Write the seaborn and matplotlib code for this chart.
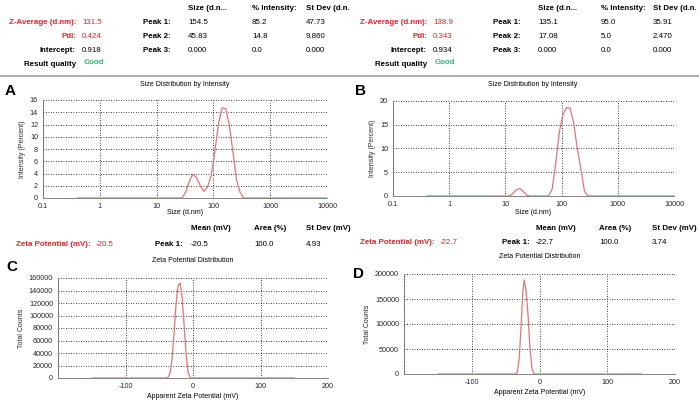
import numpy as np
import pandas as pd
import matplotlib
matplotlib.use("Agg")
import matplotlib.pyplot as plt
import matplotlib.ticker as mticker
import seaborn as sns

sns.set_style("white")
plt.rcParams['font.family'] = ['Liberation Sans', 'DejaVu Sans']

# size distribution A (d.nm vs intensity %)
size_a = [0.4, 28.21, 32.67, 37.84, 43.82, 50.75, 58.77, 68.06, 78.82, 91.28,
          105.7, 122.4, 141.8, 164.2, 190.1, 220.2, 255.0, 295.3, 342.0, 10000]
int_a = [0, 0, 1.0, 2.8, 3.9, 3.3, 2.0, 1.1, 1.8, 3.6,
         7.5, 12.0, 14.7, 14.6, 12.0, 7.6, 3.0, 0.9, 0, 0]

# size distribution B
size_b = [0.4, 11.7, 13.54, 15.69, 18.17, 21.04, 24.36, 28.21, 58.77, 68.06,
          78.82, 91.28, 105.7, 122.4, 141.8, 164.2, 190.1, 220.2, 255.0, 295.3, 10000]
int_b = [0, 0, 0.5, 1.3, 1.6, 0.9, 0.1, 0, 0, 1.5,
         7.0, 13.5, 17.2, 18.6, 18.5, 15.3, 10.0, 5.8, 1.0, 0, 0]

# zeta potential distributions C and D
zeta_c = [-150, -40, -37, -34, -31, -28, -25, -22, -19, -16, -13, -10, -7, -4, 150]
counts_c = [0, 0, 1000, 8000, 30000, 72000, 120000, 148000, 152000, 128000,
            82000, 35000, 8000, 0, 0]
zeta_d = [-150, -36, -33, -30, -27, -24.5, -22.5, -20, -17, -14, -11, -8, 150]
counts_d = [0, 0, 3000, 30000, 100000, 165000, 188000, 168000, 120000, 50000,
            10000, 0, 0]

W, H = 699, 403
RED = '#e8202a'
LINE = '#e57373'
FS = 5.7

fig = plt.figure(figsize=(W / 100, H / 100), dpi=100)


def txt(x, y, s, ha='left', color='black', bold=False, size=FS):
    fig.text(x / W, 1 - y / H, s, ha=ha, va='center', color=color,
             fontsize=size, fontweight='bold' if bold else 'normal')


def add_ax(left, right, top, bottom):
    return fig.add_axes([left / W, 1 - bottom / H, (right - left) / W, (bottom - top) / H])


def style(ax):
    for s in ['top', 'right']:
        ax.spines[s].set_visible(False)
    for s in ['left', 'bottom']:
        ax.spines[s].set_color('#707070')
        ax.spines[s].set_linewidth(0.6)
    ax.grid(True, which='major', color='black', linestyle=(0, (1, 2)), linewidth=0.6)
    ax.tick_params(which='major', direction='out', length=2, width=0.5,
                   color='#707070', labelsize=5.2, pad=1.5)
    ax.tick_params(which='minor', direction='out', length=1.3, width=0.4, color='#707070')
    ax.set_axisbelow(True)


# ---- header tables ----
for ox, vals in [(0, ('131.5', '0.424', '0.918', [('154.5', '85.2', '47.73'),
                                                  ('45.83', '14.8', '9.860'),
                                                  ('0.000', '0.0', '0.000')])),
                 (350, ('138.9', '0.343', '0.934', [('135.1', '95.0', '35.91'),
                                                    ('17.08', '5.0', '2.470'),
                                                    ('0.000', '0.0', '0.000')]))]:
    za, pdi, icpt, peaks = vals
    cx = [188, 252, 306] if ox == 0 else [538, 601, 653]
    lab = 76 if ox == 0 else 427
    pk = 171 if ox == 0 else 521
    txt(cx[0], 9, 'Size (d.n...', bold=True)
    txt(cx[1], 9, '% Intensity:', bold=True)
    txt(cx[2], 9, 'St Dev (d.n.', bold=True)
    txt(lab, 23, 'Z-Average (d.nm):', ha='right', color=RED, bold=True)
    txt(lab + 6, 23, za, color=RED)
    txt(lab, 37, 'PdI:', ha='right', color=RED, bold=True)
    txt(lab + 6, 37, pdi, color=RED)
    txt(lab, 51, 'Intercept:', ha='right', bold=True)
    txt(lab + 6, 51, icpt)
    txt(lab, 64, 'Result quality', ha='right', bold=True)
    txt(lab + 8, 63, 'Good', color='#2eb872', bold=True)
    for i, row in enumerate(peaks):
        yy = 23 + 14 * i
        txt(pk, yy, f'Peak {i + 1}:', ha='right', bold=True)
        for c, v in zip(cx, row):
            txt(c, yy, v)

fig.add_artist(plt.Line2D([0, 1], [1 - 75.5 / H, 1 - 75.5 / H], color='#a0a0a0', linewidth=1.2))

# ---- size distribution panels ----
log_ticks = [0.1, 1, 10, 100, 1000, 10000]
log_labels = ['0.1', '1', '10', '100', '1000', '10000']
for letter, box, sx, iy, ymax, ystep, ctr, lx, ly in [
        ('A', (43, 327, 100, 198), size_a, int_a, 16, 2, 185, 10, 91),
        ('B', (393, 674, 101, 196), size_b, int_b, 20, 5, 533, 360, 91)]:
    ax = add_ax(*box)
    df = pd.DataFrame({'size': sx, 'intensity': iy})
    sns.lineplot(data=df, x='size', y='intensity', ax=ax, color=LINE, linewidth=0.9,
                 sort=False, estimator=None)
    ax.set_xscale('log')
    ax.set_xlim(0.1, 10000)
    ax.set_ylim(0, ymax)
    ax.xaxis.set_major_locator(mticker.FixedLocator(log_ticks))
    ax.xaxis.set_major_formatter(mticker.FixedFormatter(log_labels))
    ax.xaxis.set_minor_locator(mticker.LogLocator(base=10, subs=np.arange(2, 10), numticks=20))
    ax.xaxis.set_minor_formatter(mticker.NullFormatter())
    ax.yaxis.set_major_locator(mticker.MultipleLocator(ystep))
    ax.yaxis.set_minor_locator(mticker.MultipleLocator(ystep / 2))
    style(ax)
    ax.set_xlabel('')
    ax.set_ylabel('Intensity (Percent)', fontsize=5, labelpad=3)
    txt(ctr, 85, 'Size Distribution by Intensity', ha='center', size=5)
    txt(ctr, 212, 'Size (d.nm)', ha='center', size=5)
    txt(lx, ly, letter, ha='center', bold=True, size=11)

# ---- zeta text ----
for ox, y1, y2, pot, mean, area, sd, lab, pk, cx in [
        (0, 229, 245, '-20.5', '-20.5', '100.0', '4.93', 91, 183, [191, 254, 306]),
        (350, 228, 243, '-22.7', '-22.7', '100.0', '3.74', 435, 530, [536, 599, 652])]:
    txt(cx[0], y1, 'Mean (mV)', bold=True)
    txt(cx[1], y1, 'Area (%)', bold=True)
    txt(cx[2], y1, 'St Dev (mV)', bold=True)
    txt(lab, y2, 'Zeta Potential (mV):', ha='right', color=RED, bold=True)
    txt(lab + 5, y2, pot, color=RED)
    txt(pk, y2, 'Peak 1:', ha='right', bold=True)
    txt(cx[0], y2, mean)
    txt(cx[1], y2, area)
    txt(cx[2], y2, sd)

# ---- zeta distribution panels ----
for letter, box, zx, cy, ymax, ystep, ctr, ty, xly, lx, ly in [
        ('C', (58, 328, 278, 378), zeta_c, counts_c, 160000, 20000, 193, 260, 397, 12, 267),
        ('D', (404, 675, 274, 374), zeta_d, counts_d, 200000, 50000, 540, 256, 392, 359, 274)]:
    ax = add_ax(*box)
    df = pd.DataFrame({'zeta': zx, 'counts': cy})
    sns.lineplot(data=df, x='zeta', y='counts', ax=ax, color=LINE, linewidth=0.9,
                 sort=False, estimator=None)
    ax.set_xlim(-200, 200)
    ax.set_ylim(0, ymax)
    ax.xaxis.set_major_locator(mticker.FixedLocator([-200, -100, 0, 100, 200]))
    ax.xaxis.set_major_formatter(mticker.FixedFormatter(['', '-100', '0', '100', '200']))
    ax.xaxis.set_minor_locator(mticker.MultipleLocator(50))
    ax.yaxis.set_major_locator(mticker.MultipleLocator(ystep))
    ax.yaxis.set_minor_locator(mticker.MultipleLocator(ystep / 2))
    ax.yaxis.set_major_formatter(mticker.FuncFormatter(lambda v, p: f'{int(v)}'))
    style(ax)
    ax.set_xlabel('')
    ax.set_ylabel('Total Counts', fontsize=5, labelpad=3)
    txt(ctr, ty, 'Zeta Potential Distribution', ha='center', size=5)
    txt(ctr, xly, 'Apparent Zeta Potential (mV)', ha='center', size=5)
    txt(lx, ly, letter, ha='center', bold=True, size=11)

fig.savefig('out.png', dpi=100)
